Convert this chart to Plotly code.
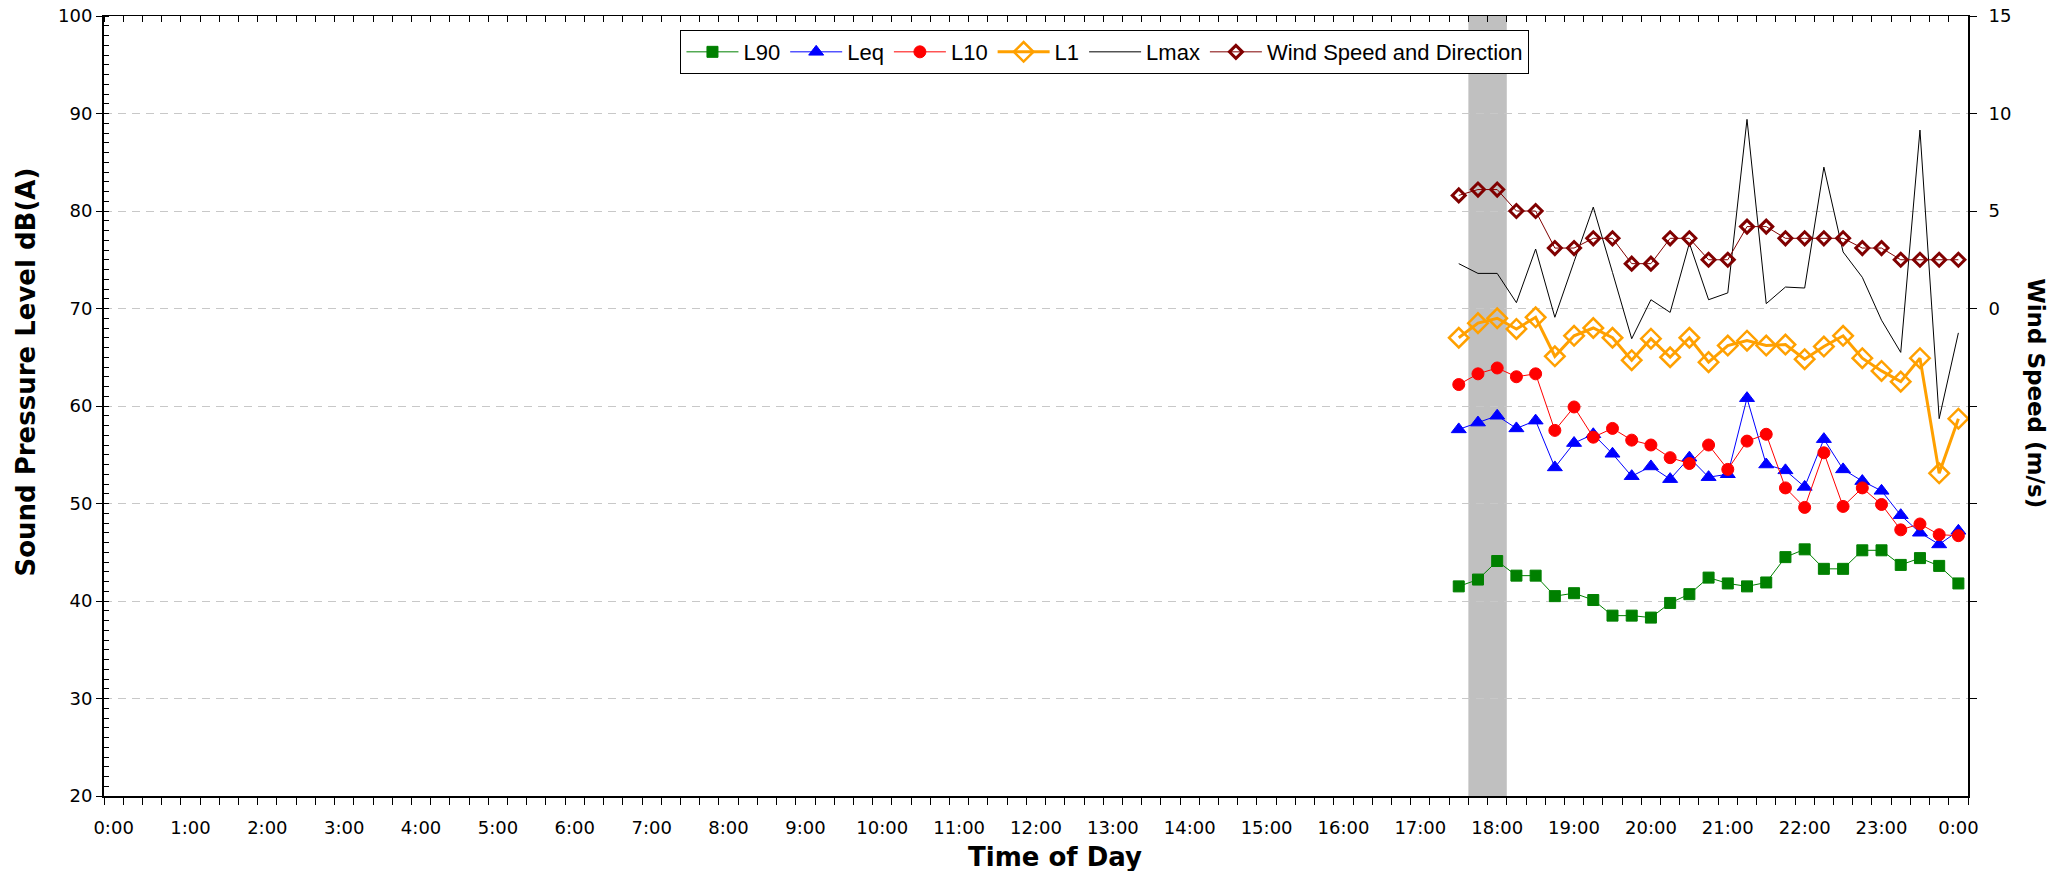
import plotly.graph_objects as go

# ---- data -------------------------------------------------------------
times = ["17:30", "17:45", "18:00", "18:15", "18:30", "18:45", "19:00", "19:15", "19:30",
         "19:45", "20:00", "20:15", "20:30", "20:45", "21:00", "21:15", "21:30", "21:45",
         "22:00", "22:15", "22:30", "22:45", "23:00", "23:15", "23:30", "23:45", "0:00"]

L90 = [41.5, 42.2, 44.1, 42.6, 42.6, 40.5, 40.8, 40.1, 38.5, 38.5, 38.3, 39.8, 40.7, 42.4,
       41.8, 41.5, 41.9, 44.5, 45.3, 43.3, 43.3, 45.2, 45.2, 43.7, 44.4, 43.6, 41.8]
Leq = [57.6, 58.3, 59.0, 57.7, 58.5, 53.7, 56.2, 57.1, 55.1, 52.8, 53.8, 52.5, 54.7, 52.7,
       53.0, 60.8, 54.0, 53.4, 51.7, 56.6, 53.5, 52.3, 51.3, 48.8, 47.0, 45.8, 47.2]
L10 = [62.2, 63.3, 63.9, 63.0, 63.3, 57.5, 59.9, 56.8, 57.7, 56.5, 56.0, 54.7, 54.1, 56.0,
       53.5, 56.4, 57.1, 51.6, 49.6, 55.2, 49.7, 51.6, 49.9, 47.3, 47.9, 46.8, 46.7]
L1 = [67.0, 68.5, 69.0, 67.9, 69.1, 65.1, 67.2, 68.0, 67.0, 64.7, 66.9, 65.0, 67.0, 64.5,
      66.2, 66.7, 66.2, 66.3, 64.8, 66.1, 67.2, 64.9, 63.6, 62.5, 64.9, 53.1, 58.7]
Lmax = [74.6, 73.6, 73.6, 70.6, 76.1, 69.1, 74.8, 80.4, 73.7, 66.9, 70.9, 69.6, 76.7, 70.9,
        71.6, 89.4, 70.5, 72.2, 72.1, 84.5, 75.8, 73.2, 68.8, 65.5, 88.3, 58.7, 67.5]
wind = [5.8, 6.1, 6.1, 5.0, 5.0, 3.1, 3.1, 3.6, 3.6, 2.3, 2.3, 3.6, 3.6, 2.5, 2.5, 4.2,
        4.2, 3.6, 3.6, 3.6, 3.6, 3.1, 3.1, 2.5, 2.5, 2.5, 2.5]

hour_labels = [f"{h % 24}:00" for h in range(25)]
highlight = (17.625, 18.125)   # shaded period (hours)

# convert clock strings to continuous hours (wrap past midnight)
x = []
for t in times:
    h, m = t.split(":")
    v = int(h) + int(m) / 60
    if x and v < x[-1]:
        v += 24
    x.append(v)

# ---- figure -----------------------------------------------------------
fig = go.Figure()

def add(name, y, color, symbol=None, size=10, lw=1, mlw=1, axis="y"):
    fig.add_trace(go.Scatter(
        x=x, y=y, name=name, yaxis=axis,
        mode="lines+markers" if symbol else "lines",
        line=dict(color=color, width=lw),
        marker=dict(symbol=symbol, size=size, color=color,
                    line=dict(color=color, width=mlw)) if symbol else None,
    ))

add("L90", L90, "#008000", "square", 11)
add("Leq", Leq, "#0000FF", "triangle-up", 13)
add("L10", L10, "#FF0000", "circle", 12)
add("L1", L1, "#FFA000", "diamond-open", 15, lw=3, mlw=2.5)
add("Lmax", Lmax, "#000000", None, lw=1)
add("Wind Speed and Direction", wind, "#800000", "diamond-open", 10, lw=1, mlw=3, axis="y2")

# invisible trace to anchor the top tick axis
fig.add_trace(go.Scatter(x=[0], y=[20], xaxis="x2", mode="markers",
                         marker=dict(opacity=0), showlegend=False, hoverinfo="skip"))

fig.add_shape(type="rect", xref="x", yref="paper", x0=highlight[0], x1=highlight[1],
              y0=0, y1=1, fillcolor="#C0C0C0", line=dict(width=0), layer="between")

tick_font = dict(family="DejaVu Sans", size=18, color="#000000")
title_font = dict(family="DejaVu Sans", size=26, color="#000000")

fig.update_layout(
    width=2067, height=871,
    margin=dict(l=104, r=99, t=16, b=75, autoexpand=False),
    paper_bgcolor="white", plot_bgcolor="white",
    showlegend=True,
    legend=dict(orientation="h", x=0.537, xanchor="center", y=0.982, yanchor="top",
                bgcolor="white", bordercolor="black", borderwidth=1,
                font=dict(family="Liberation Sans", size=22, color="black"),
                itemwidth=52, tracegroupgap=0),
    xaxis=dict(range=[-0.125, 24.125], tickmode="array",
               tickvals=list(range(25)), ticktext=hour_labels,
               ticks="", showgrid=False, zeroline=False,
               showline=True, linecolor="black", linewidth=2,
               tickfont=tick_font, ticklabelstandoff=14, ticklabeloverflow="allow",
               minor=dict(tick0=-0.125, dtick=0.25, ticks="outside", ticklen=7,
                          tickcolor="black", tickwidth=1, showgrid=False)),
    xaxis2=dict(range=[-0.125, 24.125], overlaying="x", side="top",
                showticklabels=False, ticks="", showgrid=False, zeroline=False,
                showline=True, linecolor="black", linewidth=1,
                minor=dict(tick0=-0.125, dtick=0.25, ticks="inside", ticklen=6,
                           tickcolor="black", tickwidth=1, showgrid=False)),
    yaxis=dict(range=[20, 100], dtick=10, ticks="outside", ticklen=6, tickcolor="black",
               showline=True, linecolor="black", linewidth=2, zeroline=False,
               showgrid=True, gridcolor="#C8C8C8", griddash="8px,6px", gridwidth=1,
               tickfont=tick_font, ticklabeloverflow="allow",
               minor=dict(dtick=1, ticks="inside", ticklen=5, tickcolor="black",
                          showgrid=False)),
    yaxis2=dict(range=[-25, 15], overlaying="y", side="right", tickmode="array",
                tickvals=[-20, -15, -10, -5, 0, 5, 10, 15],
                ticktext=["", "", "", "", "0", "5", "10", "15"],
                ticks="outside", ticklen=7, tickcolor="black",
                showline=True, linecolor="black", linewidth=2,
                showgrid=False, zeroline=False, tickfont=tick_font,
                ticklabelstandoff=8, ticklabeloverflow="allow"),
    annotations=[
        dict(text="<b>Sound Pressure Level dB(A)</b>", xref="paper", yref="paper",
             x=-0.0418, y=0.543, textangle=-90, showarrow=False, font=title_font,
             xanchor="center", yanchor="middle"),
        dict(text="<b>Time of Day</b>", xref="paper", yref="paper",
             x=0.51, y=-0.078, showarrow=False, font=title_font,
             xanchor="center", yanchor="middle"),
        dict(text="<b>Wind Speed (m/s)</b>", xref="paper", yref="paper",
             x=1.0366, y=0.516, textangle=90, showarrow=False,
             font=dict(family="DejaVu Sans", size=23, color="black"),
             xanchor="center", yanchor="middle"),
    ],
)

fig.write_html("out.html",
               config={"displayModeBar": False},
               post_script="document.body.style.margin='0';document.body.style.overflow='hidden';")
